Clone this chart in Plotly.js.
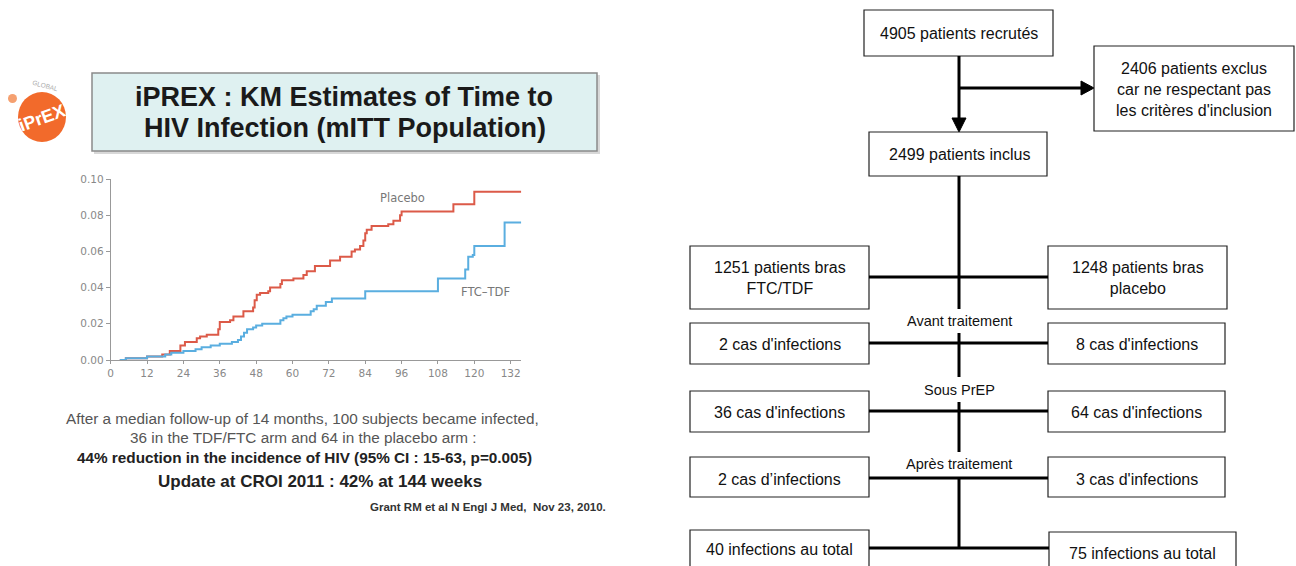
<!DOCTYPE html>
<html>
<head>
<meta charset="utf-8">
<script src="https://cdn.plot.ly/plotly-3.0.1.min.js"></script>
<style>html,body{margin:0;padding:0;background:#fff;}#chart{width:1296px;height:566px;}</style>
</head>
<body>
<div id="chart"></div>
<script>
// ---------- KM data (weeks, cumulative probability of HIV infection) ----------
const placeboWeeks = [3, 5, 12, 17, 19.5, 23, 24.5, 28.4, 29.5, 31.7, 35.5, 36, 39.4, 40.5, 43.8, 47, 47.5, 48.2, 49.3, 52, 52.6, 56, 56.5, 60.3, 63.6, 64.7, 67.4, 72.4, 75.7, 79.5, 80.6, 82.3, 83.4, 84, 84.5, 86.1, 91.6, 93.3, 95.5, 96, 113.1, 120, 135.5];
const placeboRisk  = [0, 0.001, 0.002, 0.003, 0.005, 0.008, 0.010, 0.012, 0.013, 0.014, 0.017, 0.021, 0.022, 0.024, 0.027, 0.029, 0.033, 0.036, 0.037, 0.038, 0.040, 0.042, 0.044, 0.045, 0.047, 0.049, 0.052, 0.055, 0.057, 0.060, 0.061, 0.063, 0.066, 0.070, 0.072, 0.074, 0.075, 0.077, 0.080, 0.082, 0.086, 0.093, 0.093];
const ftcWeeks = [3, 5, 12, 18, 20, 24, 28, 30, 33, 36, 40, 42, 43, 44, 45, 47, 48, 50, 56, 57, 58, 60, 66, 67, 68, 71, 73, 84, 108, 117, 118, 119.5, 120, 130, 135.5];
const ftcRisk  = [0, 0.001, 0.002, 0.003, 0.004, 0.005, 0.006, 0.007, 0.008, 0.009, 0.010, 0.011, 0.013, 0.015, 0.017, 0.018, 0.019, 0.020, 0.022, 0.023, 0.024, 0.025, 0.027, 0.028, 0.030, 0.032, 0.034, 0.038, 0.045, 0.050, 0.057, 0.058, 0.063, 0.076, 0.076];
const xTicks = [0, 12, 24, 36, 48, 60, 72, 84, 96, 108, 120, 132];
const yTicks = [0, 0.02, 0.04, 0.06, 0.08, 0.10];
const seriesNames = ["Placebo", "FTC–TDF"];

// ---------- slide texts ----------
const slideTitle = ["iPREX : KM Estimates of Time to", "HIV Infection (mITT Population)"];
const slideNotes = [
  "After a median follow-up of 14 months, 100 subjects became infected,",
  "36 in the TDF/FTC arm and 64 in the placebo arm :",
  "44% reduction in the incidence of HIV (95% CI : 15-63, p=0.005)",
  "Update at CROI 2011 : 42% at 144 weeks"
];
const citation = "Grant RM et al N Engl J Med,  Nov 23, 2010.";

// ---------- flowchart texts ----------
const flowTop = ["4905 patients recrutés", "2406 patients exclus<br>car ne respectant pas<br>les critères d'inclusion", "2499 patients inclus"];
const armFTC = ["1251 patients bras<br>FTC/TDF", "2 cas d'infections", "36 cas d'infections", "2 cas d’infections", "40 infections au total"];
const armPlacebo = ["1248 patients bras<br>placebo", "8 cas d'infections", "64 cas d'infections", "3 cas d'infections", "75 infections au total"];
const phases = ["Avant traitement", "Sous PrEP", "Après traitement"];

// ---------- helpers (pixel -> paper) ----------
const W = 1296, H = 566;
const px = x => x / W;
const py = y => 1 - y / H;
const shapes = [];
const annotations = [];
function rect(x0, y0, x1, y1, fill, lc, lw) {
  shapes.push({type: 'rect', xref: 'paper', yref: 'paper', x0: px(x0), x1: px(x1), y0: py(y1), y1: py(y0),
    fillcolor: fill || 'rgba(0,0,0,0)', line: {color: lc || '#222', width: lw === undefined ? 1.2 : lw}, layer: 'above'});
}
function seg(x0, y0, x1, y1, w) {
  shapes.push({type: 'line', xref: 'paper', yref: 'paper', x0: px(x0), x1: px(x1), y0: py(y0), y1: py(y1),
    line: {color: '#000', width: w || 3}, layer: 'above'});
}
function tri(pts) {
  const d = 'M' + pts.map(p => px(p[0]) + ',' + py(p[1])).join(' L') + ' Z';
  shapes.push({type: 'path', xref: 'paper', yref: 'paper', path: d, fillcolor: '#000', line: {color: '#000', width: 1}, layer: 'above'});
}
function txt(x, y, text, size, opts) {
  opts = opts || {};
  annotations.push({xref: 'paper', yref: 'paper', x: px(x), y: py(y), text: text, showarrow: false,
    xanchor: opts.xanchor || 'center', yanchor: 'middle', align: opts.align || 'center',
    textangle: opts.angle || 0,
    font: {family: opts.family || 'Liberation Sans, Arial, sans-serif', size: size, color: opts.color || '#111', weight: opts.weight || 'normal'}});
}

// ---------- left slide decorations ----------
// logo
shapes.push({type: 'circle', xref: 'paper', yref: 'paper', x0: px(18), x1: px(66), y0: py(142), y1: py(92), fillcolor: '#f26a2b', line: {width: 0}});
shapes.push({type: 'circle', xref: 'paper', yref: 'paper', x0: px(8), x1: px(17), y0: py(103), y1: py(94), fillcolor: '#f5a070', line: {width: 0}});
txt(42, 118, 'iPrEX', 18, {color: '#fff', weight: 'bold', angle: -20});
txt(45, 86, 'GLOBAL', 6.5, {color: '#aaa', angle: 15});
// title box with shadow
rect(94, 75, 600, 154, '#d8d8d8', '#d8d8d8', 0);
rect(92, 73, 597, 151, '#dff1f1', '#8a8a8a', 1.5);
txt(344, 97, slideTitle[0], 27, {weight: 'bold', color: '#1a1a1a'});
txt(345, 128, slideTitle[1], 27, {weight: 'bold', color: '#1a1a1a'});
// notes
txt(302, 418, slideNotes[0], 15.3, {color: '#555'});
txt(303, 438, slideNotes[1], 15.3, {color: '#555'});
txt(304, 457, slideNotes[2], 15.3, {color: '#222', weight: 'bold'});
txt(320, 481, slideNotes[3], 17, {color: '#222', weight: 'bold'});
txt(608, 507, citation, 11.5, {color: '#333', weight: 'bold', xanchor: 'right'});
// curve labels
txt(402, 198, seriesNames[0], 11.5, {color: '#777', family: 'DejaVu Sans, sans-serif'});
txt(485, 292, seriesNames[1], 11.5, {color: '#777', family: 'DejaVu Sans, sans-serif'});

// ---------- flowchart ----------
const cx = 959;
const L0 = 690, L1 = 869, R0 = 1048;
const boxFont = 16, phaseFont = 14.5;
// top
rect(864, 10, 1053, 56);
txt(959, 34, flowTop[0], boxFont);
seg(cx, 56, cx, 120);
seg(cx, 88, 1083, 88);
tri([[1081, 81], [1094, 88], [1081, 95]]);
rect(1094, 46, 1294, 131);
txt(1194, 89, flowTop[1], boxFont);
tri([[952, 118], [966, 118], [959, 132]]);
rect(869, 132, 1047, 176);
txt(959, 155, flowTop[2], boxFont);
// spine
seg(cx, 176, cx, 309);
seg(cx, 333, cx, 377);
seg(cx, 402, cx, 452);
seg(cx, 478, cx, 548);
// rows
const rows = [
  {y0: 246, y1: 309, line: 277, r1: 1227},
  {y0: 323, y1: 364, line: 343, r1: 1225},
  {y0: 391, y1: 432, line: 411, r1: 1225},
  {y0: 457, y1: 497, line: 478, r1: 1225},
  {y0: 530, y1: 575, line: 548, r1: 1236}
];
rows.forEach((r, i) => {
  const rl = i === 4 ? 1049 : R0;
  rect(L0, r.y0, L1, r.y1);
  rect(rl, i === 4 ? r.y0 + 2 : r.y0, r.r1, r.y1);
  seg(L1, r.line, rl, r.line);
  const ty = i === 0 ? 278 : (i === 4 ? 549 : r.line + 1);
  txt((L0 + L1) / 2, ty, armFTC[i], boxFont);
  txt((rl + r.r1) / 2, i === 4 ? 553 : ty, armPlacebo[i], boxFont);
});
txt(cx, 321, phases[0], phaseFont);
txt(cx, 390, phases[1], phaseFont);
txt(cx, 464, phases[2], phaseFont);

// ---------- KM axes geometry ----------
const xRange = [0, 135.5];
const x0px = 110.7, pxPerWeek = 3.03;
const xDomain = [px(x0px), px(x0px + (xRange[1] - xRange[0]) * pxPerWeek)];
const yDomain = [py(360), py(179)];

const traces = [
  {x: placeboWeeks, y: placeboRisk, type: 'scatter', mode: 'lines', line: {shape: 'hv', color: '#dc5a48', width: 2}, name: seriesNames[0], hoverinfo: 'skip'},
  {x: ftcWeeks, y: ftcRisk, type: 'scatter', mode: 'lines', line: {shape: 'hv', color: '#5aaee0', width: 2}, name: seriesNames[1], hoverinfo: 'skip'}
];

const layout = {
  width: W, height: H,
  margin: {l: 0, r: 0, t: 0, b: 0, pad: 0},
  paper_bgcolor: '#fff', plot_bgcolor: 'rgba(0,0,0,0)',
  showlegend: false,
  xaxis: {domain: xDomain, range: xRange, tickvals: xTicks, ticktext: xTicks.map(String), showgrid: false, zeroline: false,
    showline: true, linecolor: '#999', linewidth: 1, ticks: 'outside', ticklen: 3, tickcolor: '#999',
    tickfont: {family: 'DejaVu Sans, sans-serif', size: 10.5, color: '#888'}, fixedrange: true},
  yaxis: {domain: yDomain, range: [0, 0.1], tickvals: yTicks, tickformat: '.2f', showgrid: false, zeroline: false,
    showline: true, linecolor: '#999', linewidth: 1, ticks: 'outside', ticklen: 4, tickcolor: '#999',
    tickfont: {family: 'DejaVu Sans, sans-serif', size: 10.5, color: '#888'}, fixedrange: true},
  shapes: shapes,
  annotations: annotations
};

Plotly.newPlot('chart', traces, layout, {displayModeBar: false, staticPlot: true});
</script>
</body>
</html>
